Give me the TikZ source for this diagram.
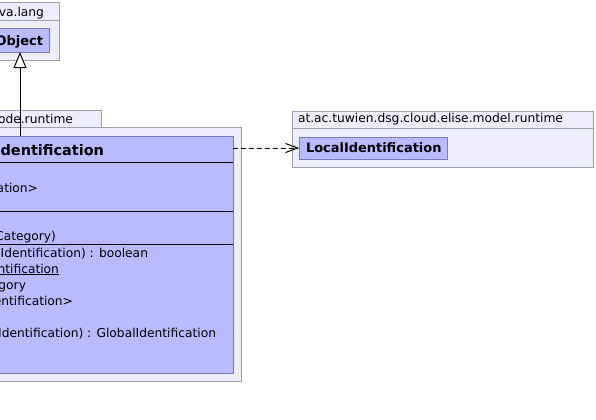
\documentclass[tikz,border=0pt]{standalone}
\usepackage{fontspec}
\setmainfont{DejaVu Sans}
\usetikzlibrary{arrows.meta}
\definecolor{pkgfill}{RGB}{238,238,251}
\definecolor{pkgline}{RGB}{158,158,178}
\definecolor{clsfill}{RGB}{186,186,255}
\definecolor{clsline}{RGB}{124,124,176}
\tikzset{
  pkgbox/.style={draw=pkgline, fill=pkgfill, line width=1bp, inner sep=0pt, outer sep=0pt, anchor=north west},
  clsbox/.style={draw=clsline, fill=clsfill, line width=1bp, inner sep=0pt, outer sep=0pt, anchor=north west},
  sepline/.style={draw=black, line width=1bp},
  pkgsep/.style={draw=pkgline, line width=1bp},
  txt/.style={inner sep=0pt, outer sep=0pt, font=\fontsize{12.3}{14}\selectfont},
  btxt/.style={inner sep=0pt, outer sep=0pt, font=\fontsize{13}{14}\selectfont\bfseries},
  ttxt/.style={inner sep=0pt, outer sep=0pt, font=\fontsize{14.5}{16}\selectfont\bfseries},
  inherit/.style={draw=black, line width=1bp, -{Triangle[open, length=16bp, width=13bp, fill=white]}},
  depend/.style={draw=black, line width=1bp, dash pattern=on 5bp off 3bp, -{Straight Barb[length=12bp, width=9bp]}}
}
\begin{document}
\begin{tikzpicture}[x=1bp, y=-1bp]
\useasboundingbox (0,0) rectangle (596,419);
\clip (0,0) rectangle (596,419);
% java.lang package
\node[pkgbox, minimum width=159bp, minimum height=58bp] (jl) at (-100,2) {};
\draw[pkgsep] (jl.west |- 0,20) -- (jl.east |- 0,20);
\node[txt, anchor=base east] (jltxt) at (44,16) {va.lang};
\node[clsbox, minimum width=149bp, minimum height=24bp] (obj) at (-100,28) {};
\node[btxt, anchor=base east] (objtxt) at (43,45) {Object};
% runtime package
\node[pkgbox, minimum width=201bp, minimum height=17bp] (rtab) at (-100,110) {};
\node[pkgbox, minimum width=341bp, minimum height=254bp] (rpkg) at (-100,127) {};
\node[txt, anchor=base east] (rtxt) at (73,123) {ode.runtime};
% main class
\node[clsbox, minimum width=333bp, minimum height=237bp] (main) at (-100,136) {};
\draw[sepline] (main.west |- 0,162) -- (main.east |- 0,162);
\draw[sepline] (main.west |- 0,211) -- (main.east |- 0,211);
\draw[sepline] (main.west |- 0,244) -- (main.east |- 0,244);
\node[ttxt, anchor=base east] (title) at (104,155) {dentification};
\node[txt, anchor=base east] (a1) at (38,192) {ation>};
\node[txt, anchor=base east] (c1) at (56,240) {Category)};
\node[txt, anchor=base east] (m1) at (148,257) {lIdentification) : boolean};
\node[txt, anchor=base east] (m2) at (59,273) {\underline{ntification}};
\node[txt, anchor=base east] (m3) at (26,289) {gory};
\node[txt, anchor=base east] (m4) at (73,305) {entification>};
\node[txt, anchor=base east] (m5) at (216,337) {lIdentification) : GlobalIdentification};
% right package
\node[pkgbox, minimum width=301bp, minimum height=56bp] (lpkg) at (292,111) {};
\draw[pkgsep] (lpkg.west |- 0,128) -- (lpkg.east |- 0,128);
\node[txt, anchor=base west] (ltxt) at (298,122) {at.ac.tuwien.dsg.cloud.elise.model.runtime};
\node[clsbox, minimum width=148bp, minimum height=22bp] (local) at (299,137) {};
\node[btxt, anchor=base west] (localtxt) at (306,152) {LocalIdentification};
% connectors
\coordinate (inh) at (20,0);
\draw[inherit] (inh |- main.north) -- (inh |- obj.south);
\draw[depend] (main.east |- local.west) -- (local.west);
\end{tikzpicture}
\end{document}
